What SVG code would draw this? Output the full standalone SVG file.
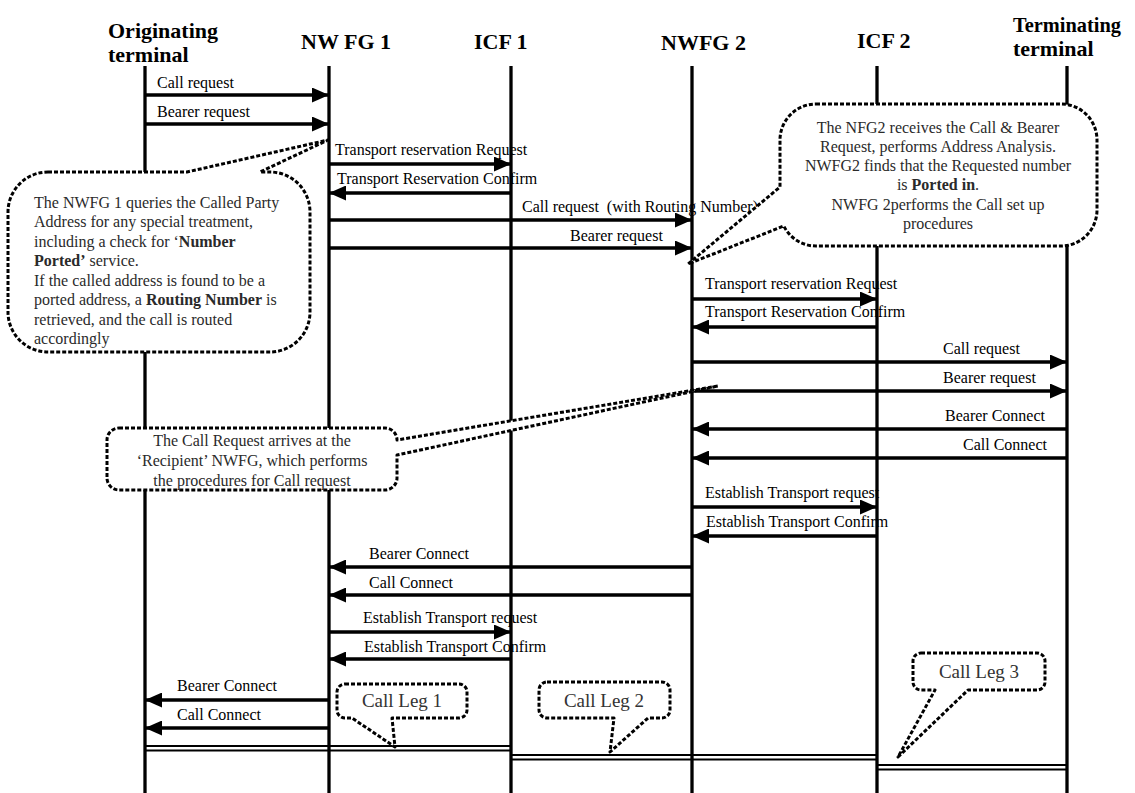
<svg xmlns="http://www.w3.org/2000/svg" width="1135" height="793" viewBox="0 0 1135 793">
<style>
.hd{font-family:"Liberation Serif","Times New Roman",serif;font-weight:bold;font-size:22px;fill:#000}
.lb{font-family:"Liberation Serif","Times New Roman",serif;font-size:16px;fill:#000}
.nt{font-family:"Liberation Serif","Times New Roman",serif;font-size:16px;fill:#2a2a2a}
.leg{font-family:"Liberation Serif","Times New Roman",serif;font-size:19px;fill:#333;text-anchor:middle}
.life{stroke:#000;stroke-width:3.3;fill:none}
.msg{stroke:#000;stroke-width:3.3;fill:none;marker-end:url(#ah)}
.co{fill:#fff;stroke:#000;stroke-width:3;stroke-dasharray:4 2;stroke-linejoin:round}
.dbl{stroke:#000;stroke-width:2;fill:none}
.b{font-weight:bold}
</style>
<defs>
<marker id="ah" markerUnits="userSpaceOnUse" markerWidth="17" markerHeight="15" refX="17" refY="7.5" orient="auto">
<path d="M0,0 L17,7.5 L0,15 Z" fill="#000"/>
</marker>
</defs>

<g id="headers">
<text class="hd" x="108" y="38">Originating</text>
<text class="hd" x="108" y="62">terminal</text>
<text class="hd" x="301" y="49">NW FG 1</text>
<text class="hd" x="474" y="49">ICF 1</text>
<text class="hd" x="661" y="50">NWFG 2</text>
<text class="hd" x="857" y="48">ICF 2</text>
<text class="hd" x="1013" y="32" textLength="108" lengthAdjust="spacingAndGlyphs">Terminating</text>
<text class="hd" x="1013" y="56">terminal</text>
</g>

<g id="labels">
<text class="lb" x="157" y="88">Call request</text>
<text class="lb" x="157" y="117">Bearer request</text>
<text class="lb" x="335" y="155">Transport reservation Request</text>
<text class="lb" x="337" y="184">Transport Reservation Confirm</text>
<text class="lb" x="522" y="212">Call request&#160; (with Routing Number)</text>
<text class="lb" x="570" y="241">Bearer request</text>
<text class="lb" x="705" y="289">Transport reservation Request</text>
<text class="lb" x="705" y="317">Transport Reservation Confirm</text>
<text class="lb" x="943" y="354">Call request</text>
<text class="lb" x="943" y="383">Bearer request</text>
<text class="lb" x="945" y="421">Bearer Connect</text>
<text class="lb" x="963" y="450">Call Connect</text>
<text class="lb" x="705" y="498">Establish Transport request</text>
<text class="lb" x="706" y="527">Establish Transport Confirm</text>
<text class="lb" x="369" y="559">Bearer Connect</text>
<text class="lb" x="369" y="588">Call Connect</text>
<text class="lb" x="363" y="623">Establish Transport request</text>
<text class="lb" x="364" y="652">Establish Transport Confirm</text>
<text class="lb" x="177" y="691">Bearer Connect</text>
<text class="lb" x="177" y="720">Call Connect</text>
</g>

<g id="lifelines">
<line class="life" x1="145" y1="66" x2="145" y2="793"/>
<line class="life" x1="329" y1="66" x2="329" y2="793"/>
<line class="life" x1="511" y1="66" x2="511" y2="793"/>
<line class="life" x1="692" y1="66" x2="692" y2="793"/>
<line class="life" x1="877" y1="66" x2="877" y2="793"/>
<line class="life" x1="1067" y1="66" x2="1067" y2="793"/>
</g>

<g id="connectors">
<line class="msg" x1="145" y1="95" x2="329" y2="95"/>
<line class="msg" x1="145" y1="124" x2="329" y2="124"/>
<line class="msg" x1="329" y1="164" x2="511" y2="164"/>
<line class="msg" x1="511" y1="193" x2="329" y2="193"/>
<line class="msg" x1="329" y1="220" x2="692" y2="220"/>
<line class="msg" x1="329" y1="248" x2="692" y2="248"/>
<line class="msg" x1="692" y1="299" x2="877" y2="299"/>
<line class="msg" x1="877" y1="327" x2="692" y2="327"/>
<line class="msg" x1="692" y1="362" x2="1067" y2="362"/>
<line class="msg" x1="692" y1="391" x2="1067" y2="391"/>
<line class="msg" x1="1067" y1="429" x2="692" y2="429"/>
<line class="msg" x1="1067" y1="458" x2="692" y2="458"/>
<line class="msg" x1="692" y1="507" x2="877" y2="507"/>
<line class="msg" x1="877" y1="536" x2="692" y2="536"/>
<line class="msg" x1="692" y1="567" x2="329" y2="567"/>
<line class="msg" x1="692" y1="595" x2="329" y2="595"/>
<line class="msg" x1="329" y1="632" x2="511" y2="632"/>
<line class="msg" x1="511" y1="659" x2="329" y2="659"/>
<line class="msg" x1="329" y1="700" x2="145" y2="700"/>
<line class="msg" x1="329" y1="728" x2="145" y2="728"/>
<path class="dbl" d="M145,746 H511 M145,750.5 H511"/>
<path class="dbl" d="M511,755 H877 M511,759.5 H877"/>
<path class="dbl" d="M877,765 H1067 M877,769.5 H1067"/>
</g>

<g id="note-nwfg1">
<path class="co" d="M48,172 L187,172 L328,140 L260,172 L270,172 A40 40 0 0 1 310,212 L310,312 A40 40 0 0 1 270,352 L48,352 A40 40 0 0 1 8,312 L8,212 A40 40 0 0 1 48,172 Z"/>
<text class="nt" x="34" y="208">The NWFG 1 queries the Called Party</text>
<text class="nt" x="34" y="227.4">Address for any special treatment,</text>
<text class="nt" x="34" y="246.9">including a check for ‘<tspan class="b">Number</tspan></text>
<text class="nt" x="34" y="266.3"><tspan class="b">Ported’</tspan> service.</text>
<text class="nt" x="34" y="285.7">If the called address is found to be a</text>
<text class="nt" x="34" y="305.1">ported address, a <tspan class="b">Routing Number</tspan> is</text>
<text class="nt" x="34" y="324.6">retrieved, and the call is routed</text>
<text class="nt" x="34" y="344">accordingly</text>
</g>

<g id="note-nwfg2">
<path class="co" d="M816,104 L1061,104 A36 36 0 0 1 1097,140 L1097,210 A36 36 0 0 1 1061,246 L816,246 A36 36 0 0 1 783.8,226 L688,264 L780,187 L780,140 A36 36 0 0 1 816,104 Z"/>
<g text-anchor="middle">
<text class="nt" x="938" y="133">The NFG2 receives the Call &amp; Bearer</text>
<text class="nt" x="938" y="152">Request, performs Address Analysis.</text>
<text class="nt" x="938" y="171">NWFG2 finds that the Requested number</text>
<text class="nt" x="938" y="190">is <tspan class="b">Ported in</tspan>.</text>
<text class="nt" x="938" y="210">NWFG 2performs the Call set up</text>
<text class="nt" x="938" y="229">procedures</text>
</g>
</g>

<g id="note-recipient">
<path class="co" d="M119,428 L385,428 A12 12 0 0 1 397,440 L718,386 L397,455 L397,478 A12 12 0 0 1 385,490 L119,490 A12 12 0 0 1 107,478 L107,440 A12 12 0 0 1 119,428 Z"/>
<g text-anchor="middle">
<text class="nt" x="252" y="446">The Call Request arrives at the</text>
<text class="nt" x="252" y="466">‘Recipient’ NWFG, which performs</text>
<text class="nt" x="252" y="486">the procedures for Call request</text>
</g>
</g>

<g id="leg1">
<path class="co" d="M345,684 L459,684 A8 8 0 0 1 467,692 L467,710 A8 8 0 0 1 459,718 L392,718 L395,747 L352,718 L345,718 A8 8 0 0 1 337,710 L337,692 A8 8 0 0 1 345,684 Z"/>
<text class="leg" x="402" y="707">Call Leg 1</text>
</g>
<g id="leg2">
<path class="co" d="M547,682 L662,682 A8 8 0 0 1 670,690 L670,710 A8 8 0 0 1 662,718 L648,718 L610,752 L614,718 L547,718 A8 8 0 0 1 539,710 L539,690 A8 8 0 0 1 547,682 Z"/>
<text class="leg" x="604" y="707">Call Leg 2</text>
</g>
<g id="leg3">
<path class="co" d="M921,653 L1037,653 A8 8 0 0 1 1045,661 L1045,682 A8 8 0 0 1 1037,690 L968,690 L898,757 L935,690 L921,690 A8 8 0 0 1 913,682 L913,661 A8 8 0 0 1 921,653 Z"/>
<text class="leg" x="979" y="678">Call Leg 3</text>
</g>
</svg>
